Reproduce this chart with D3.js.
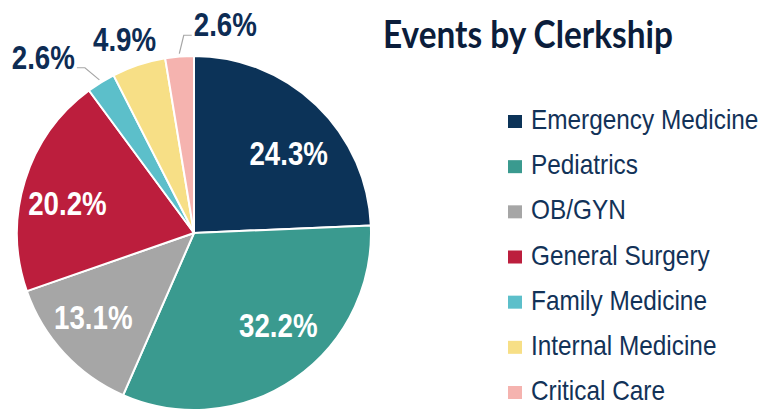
<!DOCTYPE html>
<html><head><meta charset="utf-8">
<script src="https://cdn.jsdelivr.net/npm/d3@7"></script>
<style>html,body{margin:0;padding:0;background:#fff;}svg{display:block;}</style>
</head><body>
<svg id="chart" width="762" height="411"></svg>
<script>
const categories = ["Emergency Medicine","Pediatrics","OB/GYN","General Surgery","Family Medicine","Internal Medicine","Critical Care"];
const values = [24.3, 32.2, 13.1, 20.2, 2.6, 4.9, 2.6];
const labels = ["24.3%","32.2%","13.1%","20.2%","2.6%","4.9%","2.6%"];
const colors = ["#0c3358","#3a9a8f","#a6a6a6","#bc1e3d","#5cbfca","#f7df86","#f5b3af"];
const labelMode = ["in","in","in","in","leaderLeft","out","leaderRight"];
const title = "Events by Clerkship";

// layout nudges for data labels (degrees, radius)
const labelAngleShift = [6, -8, 3, -4, 0, -1.5, 0];
const labelRadius = [124, 125, 131, 130, 0, 206, 0];

const svg = d3.select("#chart");
const cx = 194, cy = 233, R = 177;
const g = svg.append("g").attr("transform", `translate(${cx},${cy})`);

const pie = d3.pie().sort(null).value(d => d)(values);
const arc = d3.arc().innerRadius(0).outerRadius(R);
g.selectAll("path").data(pie).enter().append("path")
  .attr("d", arc).attr("fill", (d,i) => colors[i])
  .attr("stroke", "#fff").attr("stroke-width", 2).attr("stroke-linejoin","round");

const mid = d => (d.startAngle + d.endAngle) / 2;
const pt = (a, r) => [r * Math.sin(a), -r * Math.cos(a)];
const labelFont = "'Liberation Sans', Arial, sans-serif";

pie.forEach((d, i) => {
  const mode = labelMode[i];
  const a = mid(d) + labelAngleShift[i] * Math.PI / 180;
  let x, y, anchor = "middle", baseline = "central", fill = "#fff";
  if (mode === "in") {
    [x, y] = pt(a, labelRadius[i]);
  } else if (mode === "out") {
    [x, y] = pt(a, labelRadius[i]); fill = "#0d2c54";
  } else {
    fill = "#0d2c54";
    const dir = mode === "leaderLeft" ? -1 : 1;
    const p0 = pt(a, 180), p1 = pt(a + dir * 0.03, 198);
    const p2 = [p1[0] + dir * 8, p1[1]];
    g.append("polyline").attr("points", [p0, p1, p2].map(p => p.join(",")).join(" "))
      .attr("fill", "none").attr("stroke", "#a6a6a6").attr("stroke-width", 1.2);
    x = p2[0] + dir * 2; y = p1[1] + 1;
    anchor = dir < 0 ? "end" : "start"; baseline = "auto";
  }
  g.append("text")
    .attr("transform", `translate(${x},${y}) scale(0.84,1)`)
    .attr("text-anchor", anchor).attr("dominant-baseline", baseline)
    .attr("font-family", labelFont).attr("font-weight", "bold").attr("font-size", 33)
    .attr("fill", fill).text(labels[i]);
});

// Title
svg.append("text").attr("x", 383).attr("y", 48)
  .attr("font-family", "Lato, 'Open Sans', sans-serif").attr("font-weight", "bold")
  .attr("font-size", 38).attr("fill", "#0b1d3b")
  .attr("textLength", 290).attr("lengthAdjust", "spacingAndGlyphs")
  .text(title);

// Legend
const ly = d3.scalePoint().domain(categories).range([129, 400]);
const leg = svg.append("g");
categories.forEach((c, i) => {
  const by = ly(c);
  leg.append("rect").attr("x", 508).attr("y", by - 14).attr("width", 14).attr("height", 13)
    .attr("fill", colors[i]);
  leg.append("text").attr("transform", `translate(531,${by}) scale(0.87,1)`)
    .attr("font-family", labelFont).attr("font-size", 28).attr("fill", "#123258")
    .text(c);
});
</script>
</body></html>
